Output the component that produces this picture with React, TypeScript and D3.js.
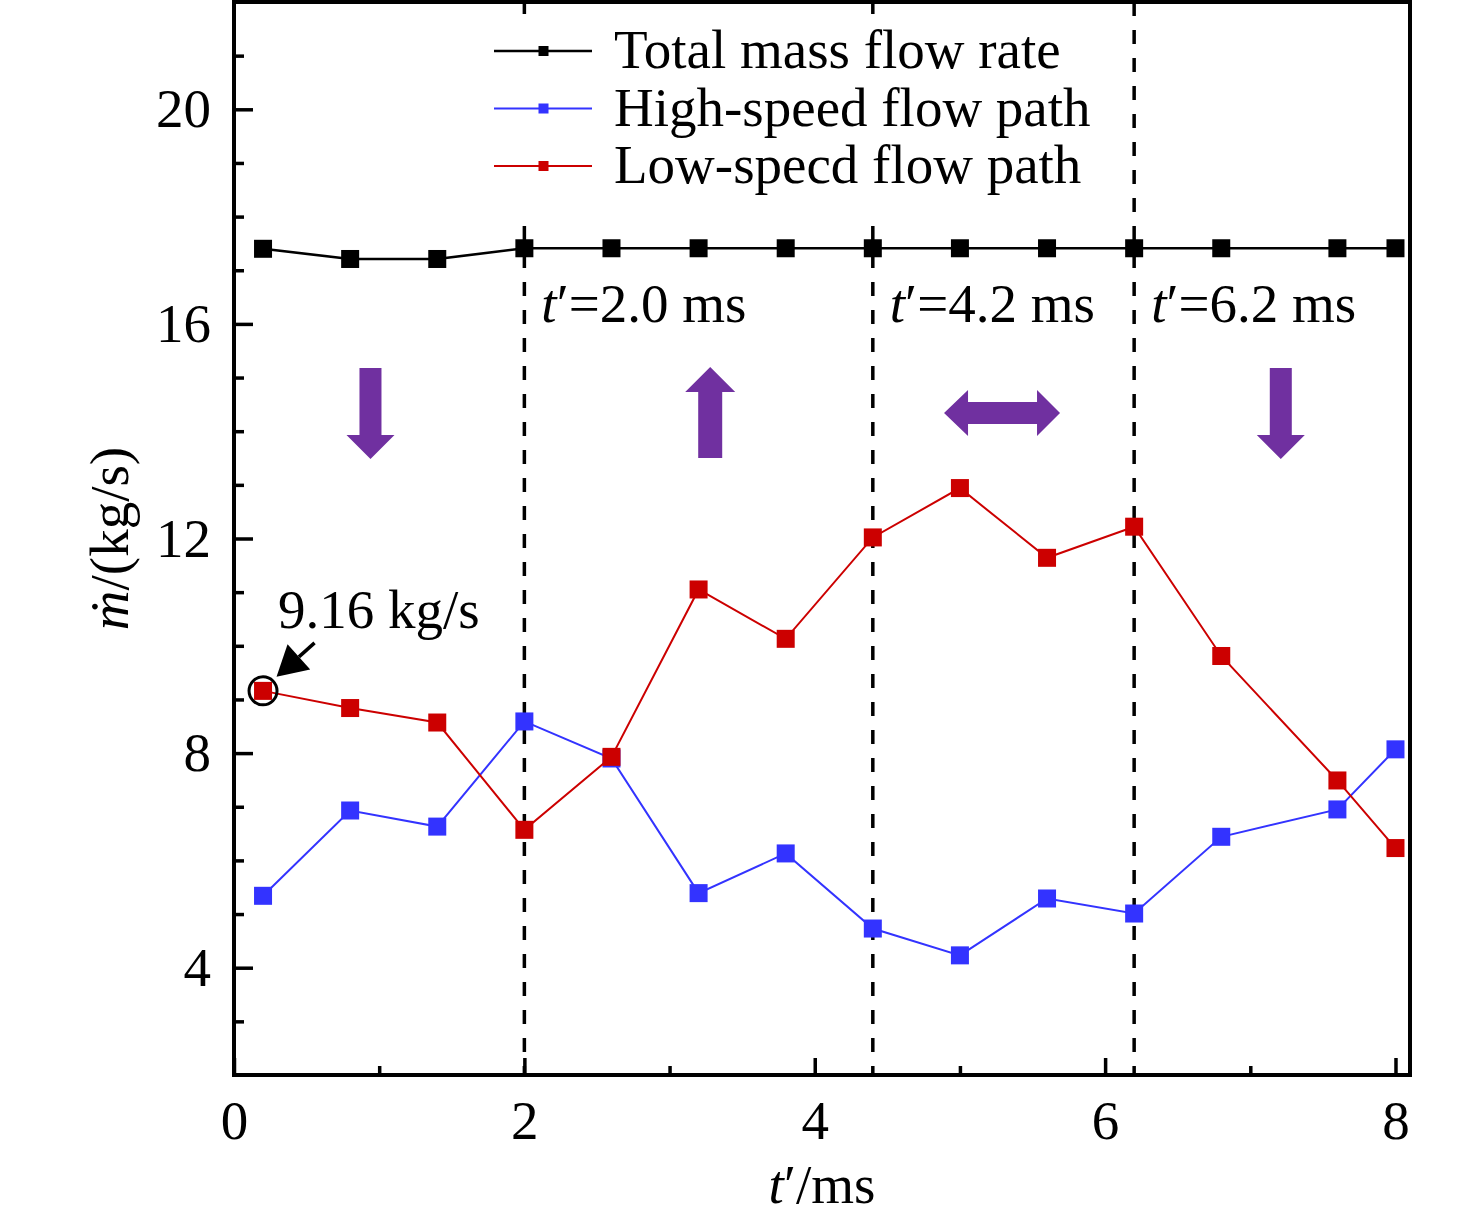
import { useEffect, useRef } from "react";
import * as d3 from "d3";

// time axis (ms) and the three mass flow series (kg/s)
const timeMs = [0.2, 0.8, 1.4, 2.0, 2.6, 3.2, 3.8, 4.4, 5.0, 5.6, 6.2, 6.8, 7.6, 8.0];
const totalFlow = [17.4, 17.21, 17.21, 17.41, 17.41, 17.41, 17.41, 17.41, 17.41, 17.41, 17.41, 17.41, 17.41, 17.41];
const highSpeedFlow = [5.34, 6.93, 6.63, 8.59, 7.9, 5.39, 6.13, 4.73, 4.23, 5.29, 5.01, 6.44, 6.95, 8.07];
const lowSpeedFlow = [9.16, 8.84, 8.57, 6.57, 7.93, 11.05, 10.13, 12.02, 12.94, 11.64, 12.22, 9.81, 7.49, 6.23];

const seriesNames = ["Total mass flow rate", "High-speed flow path", "Low-specd flow path"];
const seriesColors = ["#000000", "#3333ff", "#cc0000"];

const xTicks = [0, 2, 4, 6, 8];
const xMinorTicks = [1, 3, 5, 7];
const yTicks = [4, 8, 12, 16, 20];
const yMinorTicks = [3, 5, 6, 7, 9, 10, 11, 13, 14, 15, 17, 18, 19, 21];

// stage boundaries
const stageTimes = [2.0, 4.4, 6.2];
const stageLabels = ["2.0", "4.2", "6.2"];

// trend arrows (direction of low-speed flow change)
const trendX = [0.94, 3.28, 5.29, 7.21];
const trendDir = ["down", "up", "both", "down"];

const annotationText = "9.16 kg/s";

const FONT = "'Liberation Serif', 'Times New Roman', 'DejaVu Serif', serif";
const FS = 55;

export default function App() {
  const ref = useRef<SVGSVGElement | null>(null);

  useEffect(() => {
    if (!ref.current) return;
    const svg = d3.select(ref.current);
    svg.selectAll("*").remove();

    const left = 234, right = 1410, top = 2, bottom = 1075;
    const x = d3.scaleLinear().domain([0, 8.1]).range([left, right]);
    const y = d3.scaleLinear().domain([2, 22]).range([bottom, top]);

    const g = svg.append("g").attr("font-family", FONT);

    // dashed stage lines
    g.selectAll("line.stage")
      .data(stageTimes)
      .enter()
      .append("line")
      .attr("x1", d => x(d))
      .attr("x2", d => x(d))
      .attr("y1", top)
      .attr("y2", bottom)
      .attr("stroke", "#000")
      .attr("stroke-width", 3.5)
      .attr("stroke-dasharray", "14,14");

    // legend background hides the dashes behind it
    g.append("rect")
      .attr("x", 488)
      .attr("y", 14)
      .attr("width", 612)
      .attr("height", 208)
      .attr("fill", "#fff");

    // stage labels
    stageTimes.forEach((t, i) => {
      const txt = g.append("text")
        .attr("x", x(t) + 17)
        .attr("y", 322)
        .attr("font-size", FS);
      txt.append("tspan").attr("font-style", "italic").text("t");
      txt.append("tspan").text(`\u2032=${stageLabels[i]} ms`);
    });

    // purple trend arrows
    const purple = "#7030a0";
    const yMid = y(14.34);
    trendX.forEach((tx, i) => {
      const cx = x(tx);
      const dir = trendDir[i];
      let pts: [number, number][] = [];
      if (dir === "down") {
        pts = [[cx - 11, yMid - 45], [cx + 11, yMid - 45], [cx + 11, yMid + 22], [cx + 24, yMid + 22],
          [cx, yMid + 46], [cx - 24, yMid + 22], [cx - 11, yMid + 22]];
      } else if (dir === "up") {
        pts = [[cx - 12, yMid + 45], [cx + 12, yMid + 45], [cx + 12, yMid - 21], [cx + 25, yMid - 21],
          [cx, yMid - 46], [cx - 25, yMid - 21], [cx - 12, yMid - 21]];
      } else {
        pts = [[cx - 58, 0], [cx - 34, -23], [cx - 34, -11], [cx + 35, -11], [cx + 35, -23], [cx + 58, 0],
          [cx + 35, 23], [cx + 35, 11], [cx - 34, 11], [cx - 34, 23]].map(p => [p[0], yMid + p[1]] as [number, number]);
      }
      g.append("polygon")
        .attr("points", pts.map(p => p.join(",")).join(" "))
        .attr("fill", purple);
    });

    // series
    const series = [totalFlow, highSpeedFlow, lowSpeedFlow];
    const widths = [2.6, 2, 2];
    const line = d3.line<number>()
      .x((_, i) => x(timeMs[i]))
      .y(d => y(d));

    series.forEach((vals, s) => {
      g.append("path")
        .datum(vals)
        .attr("fill", "none")
        .attr("stroke", seriesColors[s])
        .attr("stroke-width", widths[s])
        .attr("d", line);
      g.selectAll(`rect.m${s}`)
        .data(vals)
        .enter()
        .append("rect")
        .attr("x", (_, i) => x(timeMs[i]) - 9)
        .attr("y", d => y(d) - 9)
        .attr("width", 18)
        .attr("height", 18)
        .attr("fill", seriesColors[s]);
    });

    // legend
    seriesNames.forEach((name, i) => {
      const ly = 51 + i * 57.5;
      g.append("line")
        .attr("x1", 494).attr("x2", 592)
        .attr("y1", ly).attr("y2", ly)
        .attr("stroke", seriesColors[i])
        .attr("stroke-width", i === 0 ? 2.4 : 2);
      g.append("rect")
        .attr("x", 538.5).attr("y", ly - 5)
        .attr("width", 10).attr("height", 10)
        .attr("fill", seriesColors[i]);
      g.append("text")
        .attr("x", 614)
        .attr("y", ly + 17)
        .attr("font-size", FS)
        .text(name);
    });

    // annotation of first low-speed point
    const px = x(timeMs[0]);
    const py = y(lowSpeedFlow[0]);
    g.append("circle")
      .attr("cx", px).attr("cy", py).attr("r", 14)
      .attr("fill", "none").attr("stroke", "#000").attr("stroke-width", 3);
    const tail: [number, number] = [px + 51.5, py - 48];
    const tip: [number, number] = [px + 13.5, py - 14];
    const dx = tip[0] - tail[0], dy = tip[1] - tail[1];
    const len = Math.hypot(dx, dy);
    const ux = dx / len, uy = dy / len;
    const headLen = 30, headW = 17;
    const base: [number, number] = [tip[0] - ux * headLen, tip[1] - uy * headLen];
    g.append("line")
      .attr("x1", tail[0]).attr("y1", tail[1])
      .attr("x2", base[0]).attr("y2", base[1])
      .attr("stroke", "#000").attr("stroke-width", 3.5);
    g.append("polygon")
      .attr("points", [
        tip,
        [base[0] - uy * headW, base[1] + ux * headW],
        [base[0] + uy * headW, base[1] - ux * headW],
      ].map(p => p.join(",")).join(" "))
      .attr("fill", "#000");
    g.append("text")
      .attr("x", px + 15)
      .attr("y", 628)
      .attr("font-size", FS)
      .text(annotationText);

    // axes with inward ticks
    const xAxis = g.append("g")
      .attr("transform", `translate(0,${bottom})`)
      .call(d3.axisBottom(x).tickValues(xTicks).tickSize(-17).tickPadding(25).tickFormat(d3.format("d")));
    const xMinor = g.append("g")
      .attr("transform", `translate(0,${bottom})`)
      .call(d3.axisBottom(x).tickValues(xMinorTicks).tickSize(-9).tickFormat(() => ""));
    const yAxis = g.append("g")
      .attr("transform", `translate(${left},0)`)
      .call(d3.axisLeft(y).tickValues(yTicks).tickSize(-19).tickPadding(23).tickFormat(d3.format("d")));
    const yMinor = g.append("g")
      .attr("transform", `translate(${left},0)`)
      .call(d3.axisLeft(y).tickValues(yMinorTicks).tickSize(-10).tickFormat(() => ""));

    [xAxis, xMinor, yAxis, yMinor].forEach(a => {
      a.select(".domain").remove();
      a.selectAll(".tick line").attr("stroke", "#000").attr("stroke-width", 3.5);
      a.selectAll(".tick text")
        .attr("font-family", FONT)
        .attr("font-size", FS)
        .attr("fill", "#000");
    });

    // frame
    g.append("rect")
      .attr("x", left).attr("y", top)
      .attr("width", right - left).attr("height", bottom - top)
      .attr("fill", "none")
      .attr("stroke", "#000")
      .attr("stroke-width", 4);

    // axis titles
    const xt = g.append("text")
      .attr("x", (left + right) / 2)
      .attr("y", 1203)
      .attr("text-anchor", "middle")
      .attr("font-size", FS);
    xt.append("tspan").attr("font-style", "italic").text("t");
    xt.append("tspan").text("\u2032/ms");

    const yt = g.append("text")
      .attr("transform", `translate(128,${(top + bottom) / 2}) rotate(-90)`)
      .attr("text-anchor", "middle")
      .attr("font-size", FS);
    yt.append("tspan").attr("font-style", "italic").text("\u1e41");
    yt.append("tspan").text("/(kg/s)");
  }, []);

  return (
    <div style={{ position: "absolute", left: 0, top: 0, background: "#fff" }}>
      <svg ref={ref} width={1476} height={1222} style={{ display: "block" }} />
    </div>
  );
}
